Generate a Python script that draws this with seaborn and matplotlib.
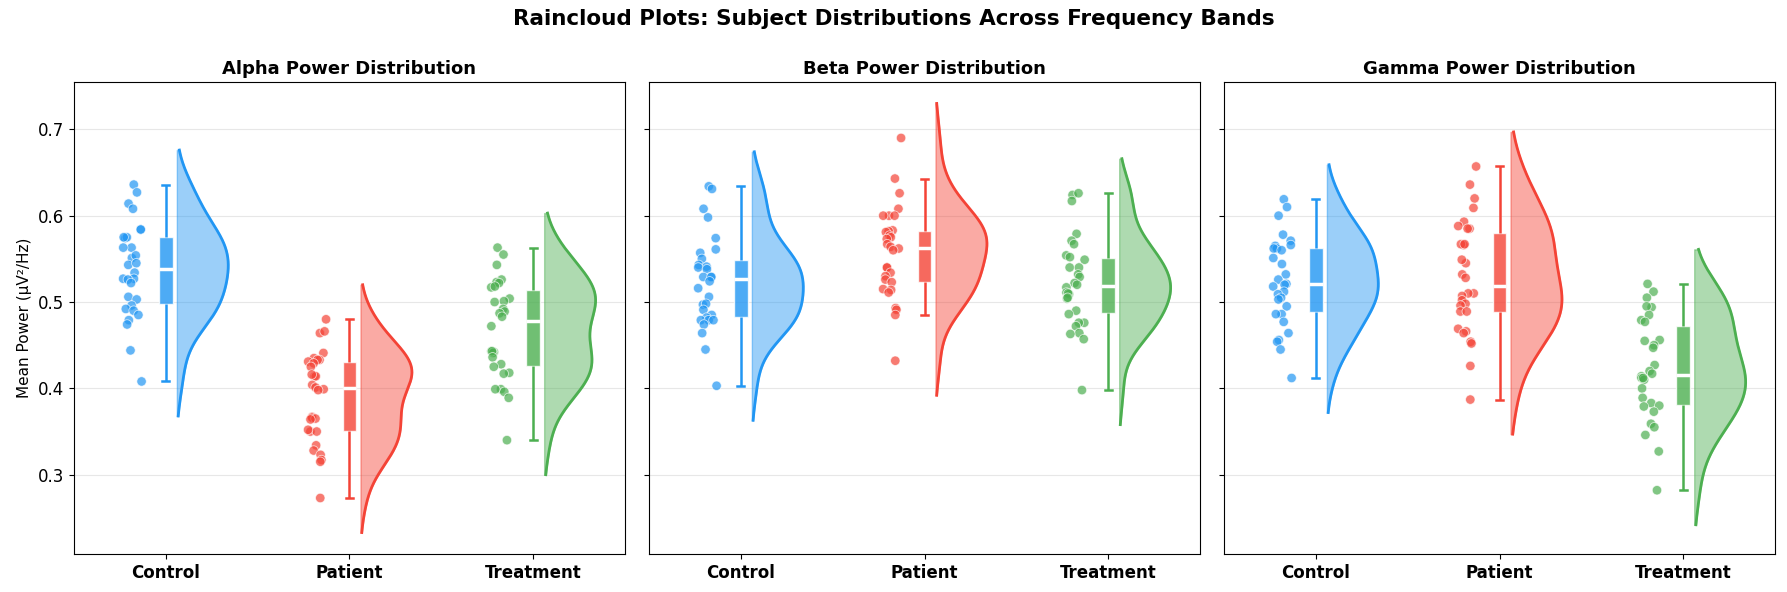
import numpy as np
import pandas as pd
import seaborn as sns
import matplotlib.pyplot as plt

groups = ['Control', 'Patient', 'Treatment']
colors = ['#2196F3', '#F44336', '#4CAF50']
bands = ['Alpha', 'Beta', 'Gamma']

# subject means (30 subjects per group)
alpha_control = [0.636, 0.627, 0.614, 0.608, 0.584, 0.584, 0.574, 0.575, 0.575, 0.563,
                 0.563, 0.551, 0.554, 0.543, 0.545, 0.534, 0.527, 0.527, 0.526, 0.522,
                 0.506, 0.503, 0.496, 0.492, 0.490, 0.485, 0.479, 0.474, 0.444, 0.408]
alpha_patient = [0.480, 0.464, 0.466, 0.441, 0.435, 0.431, 0.433, 0.433, 0.429, 0.425,
                 0.414, 0.414, 0.416, 0.404, 0.401, 0.399, 0.398, 0.367, 0.366, 0.365,
                 0.364, 0.350, 0.350, 0.352, 0.334, 0.328, 0.323, 0.317, 0.315, 0.273]
alpha_treatment = [0.563, 0.555, 0.543, 0.526, 0.523, 0.522, 0.517, 0.518, 0.504, 0.500,
                   0.501, 0.492, 0.489, 0.487, 0.483, 0.472, 0.443, 0.442, 0.441, 0.443,
                   0.436, 0.428, 0.425, 0.418, 0.417, 0.399, 0.396, 0.399, 0.389, 0.340]

beta_control = [0.634, 0.631, 0.608, 0.598, 0.574, 0.561, 0.557, 0.550, 0.543, 0.541,
                0.540, 0.538, 0.529, 0.529, 0.529, 0.524, 0.516, 0.506, 0.497, 0.498,
                0.491, 0.485, 0.482, 0.479, 0.479, 0.479, 0.474, 0.464, 0.445, 0.403]
beta_patient = [0.690, 0.643, 0.626, 0.608, 0.600, 0.600, 0.600, 0.583, 0.582, 0.581,
                0.577, 0.575, 0.573, 0.567, 0.564, 0.562, 0.560, 0.540, 0.540, 0.534,
                0.530, 0.526, 0.523, 0.515, 0.514, 0.511, 0.493, 0.491, 0.485, 0.432]
beta_treatment = [0.624, 0.626, 0.617, 0.579, 0.571, 0.567, 0.554, 0.552, 0.549, 0.540,
                  0.540, 0.532, 0.529, 0.522, 0.520, 0.517, 0.511, 0.509, 0.510, 0.504,
                  0.505, 0.490, 0.486, 0.476, 0.476, 0.472, 0.464, 0.463, 0.457, 0.398]

gamma_control = [0.619, 0.610, 0.600, 0.578, 0.571, 0.566, 0.565, 0.562, 0.562, 0.560,
                 0.551, 0.544, 0.532, 0.526, 0.521, 0.520, 0.518, 0.512, 0.509, 0.505,
                 0.503, 0.495, 0.486, 0.486, 0.477, 0.464, 0.456, 0.454, 0.445, 0.412]
gamma_patient = [0.657, 0.636, 0.620, 0.609, 0.593, 0.588, 0.585, 0.585, 0.566, 0.567,
                 0.567, 0.545, 0.549, 0.532, 0.528, 0.510, 0.510, 0.507, 0.502, 0.498,
                 0.496, 0.489, 0.489, 0.469, 0.466, 0.464, 0.454, 0.452, 0.426, 0.387]
gamma_treatment = [0.521, 0.512, 0.505, 0.494, 0.495, 0.485, 0.479, 0.477, 0.456, 0.455,
                   0.450, 0.447, 0.427, 0.420, 0.417, 0.414, 0.412, 0.410, 0.412, 0.400,
                   0.389, 0.383, 0.379, 0.380, 0.373, 0.359, 0.355, 0.346, 0.327, 0.282]

band_data = {
    'Alpha': [alpha_control, alpha_patient, alpha_treatment],
    'Beta': [beta_control, beta_patient, beta_treatment],
    'Gamma': [gamma_control, gamma_patient, gamma_treatment],
}


def build_frame(series):
    rows = []
    for g, vals in zip(groups, series):
        rows += [(g, v) for v in vals]
    return pd.DataFrame(rows, columns=['group', 'value'])


def half_violin(ax, values, pos, color, offset=0.06, width=0.28, pad=0.04):
    v = np.asarray(values)
    y = np.linspace(v.min() - pad, v.max() + pad, 300)
    bw = v.std(ddof=1) * len(v) ** (-1 / 5)
    dens = np.exp(-0.5 * ((y[:, None] - v[None, :]) / bw) ** 2).sum(axis=1)
    dens = dens / dens.max() * width
    ax.fill_betweenx(y, pos + offset, pos + offset + dens, color=color,
                     alpha=0.45, linewidth=1)
    ax.plot(pos + offset + dens, y, color=color, lw=2)


def plot_band(ax, band):
    df = build_frame(band_data[band])

    np.random.seed(3)
    n_before = len(ax.collections)
    sns.stripplot(data=df, x='group', y='value', hue='group', order=groups,
                  hue_order=groups, palette=colors, jitter=0.055, size=6.8,
                  alpha=0.7, edgecolor='white', linewidth=0.6, legend=False, ax=ax)
    for coll in ax.collections[n_before:]:
        off = coll.get_offsets()
        off[:, 0] -= 0.18
        coll.set_offsets(off)

    for i, (g, c) in enumerate(zip(groups, colors)):
        n_lines, n_patches = len(ax.lines), len(ax.patches)
        sns.boxplot(data=df[df['group'] == g], x='group', y='value', order=groups,
                    color=c, width=0.075, showfliers=False, ax=ax)
        for p in ax.patches[n_patches:]:
            p.set_facecolor(c)
            p.set_alpha(0.8)
            p.set_edgecolor('white')
            p.set_linewidth(1)
        new_lines = ax.lines[n_lines:]
        for ln in new_lines:
            ln.set_color(c)
            ln.set_linewidth(1.8)
        # median is the last line bxp adds
        new_lines[-1].set_color('white')
        new_lines[-1].set_linewidth(2.5)

        half_violin(ax, band_data[band][i], i, c)

    ax.set_xlim(-0.5, 2.5)
    ax.set_title(f'{band} Power Distribution', fontsize=13, fontweight='bold')
    ax.set_xlabel('')
    ax.set_ylabel('')
    ax.set_xticks(range(len(groups)))
    ax.set_xticklabels(groups, fontsize=12, fontweight='bold')
    ax.tick_params(axis='y', labelsize=12)
    ax.yaxis.grid(True, alpha=0.3)
    ax.set_axisbelow(True)


def main():
    fig, axes = plt.subplots(1, 3, figsize=(17.87, 5.92), dpi=100, sharey=True)
    for ax, band in zip(axes, bands):
        plot_band(ax, band)
    axes[0].set_ylabel('Mean Power (μV²/Hz)', fontsize=11)
    fig.suptitle('Raincloud Plots: Subject Distributions Across Frequency Bands',
                 fontsize=15.5, fontweight='bold', y=0.985)
    fig.subplots_adjust(left=0.0414, right=0.9933, top=0.8615, bottom=0.0642, wspace=0.0436)
    fig.savefig('out.png', dpi=100)
    plt.close(fig)


if __name__ == '__main__':
    main()
